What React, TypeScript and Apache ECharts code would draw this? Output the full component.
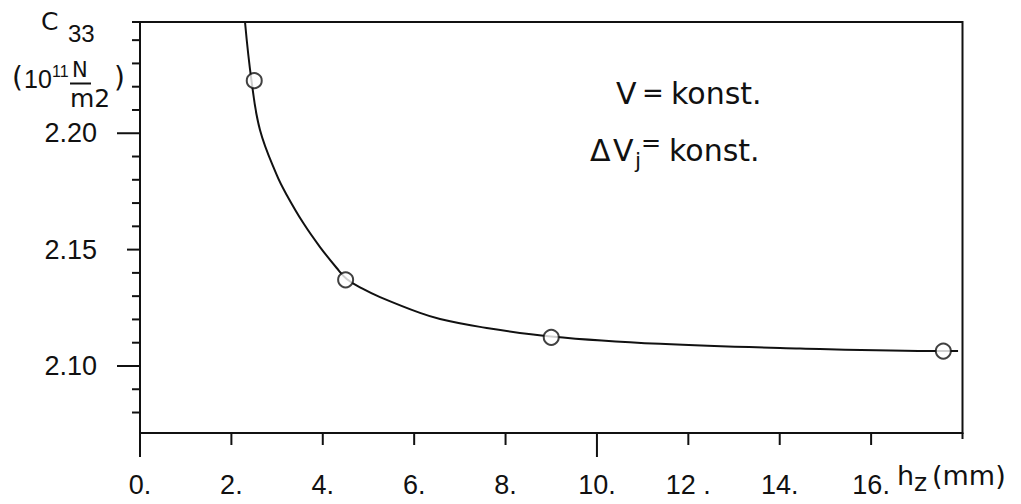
import React, { useEffect, useRef } from "react";
import * as echarts from "echarts";

// Measured points: C33 (10^11 N/m^2) against layer thickness h_z (mm)
const measuredX = [2.5, 4.5, 9.0, 17.58];
const measuredY = [2.2226, 2.137, 2.1123, 2.1064];

// Hand-drawn fit curve through the measurements
const curveX = [2.298, 2.44, 2.626, 2.992, 3.211, 3.574, 3.94, 4.305, 4.524, 4.859, 5.253, 6.128, 6.566, 7.441, 8.995, 11.381, 14.445, 17.575, 17.903];
const curveY = [2.2478, 2.2226, 2.2014, 2.1821, 2.1735, 2.1614, 2.1511, 2.1421, 2.1374, 2.1333, 2.1296, 2.1228, 2.1202, 2.1168, 2.1127, 2.1095, 2.1075, 2.1064, 2.1064];

// Axis ranges, tick positions and labels
const X_MIN = 0;
const X_MAX = 18;
const Y_MIN = 2.0712;
const Y_MAX = 2.2478;
const xLabelValues = [0, 2, 4, 6, 8, 10, 12, 14, 16];
const xLabelTexts = ["0.", "2.", "4.", "6.", "8.", "10.", "12 .", "14.", "16."];
const xLongTicks = [0, 10];
const xShortTicks = [2, 4, 6, 8, 12, 14, 16];
const xEndTicks = [18];
const yLabelValues = [2.1, 2.15, 2.2];
const yLabelTexts = ["2.10", "2.15", "2.20"];
const yLongTicks = [2.1, 2.2];
const yMidTicks = [2.15];
const yMinorTicks = [2.08, 2.09, 2.11, 2.12, 2.13, 2.14, 2.16, 2.17, 2.18, 2.19, 2.21, 2.22, 2.23, 2.24];

const NUM_FONT = "'Liberation Sans', Arial, sans-serif";
const TXT_FONT = "'DejaVu Sans', sans-serif";
const INK = "#111";

// Tick groups: which axis they sit on and how far they reach out
const TICK_GROUPS = [
  { axis: "x", values: xLongTicks, len: 24 },
  { axis: "x", values: xShortTicks, len: 12 },
  { axis: "x", values: xEndTicks, len: 6 },
  { axis: "y", values: yLongTicks, len: 23 },
  { axis: "y", values: yMidTicks, len: 13 },
  { axis: "y", values: yMinorTicks, len: 8 },
];

function txt(text: string, left: number, top: number, size: number, family = TXT_FONT) {
  return {
    type: "text",
    left,
    top,
    silent: true,
    style: { text, fontSize: size, fontFamily: family, fill: INK },
  };
}

export default function App() {
  const ref = useRef<HTMLDivElement>(null);

  useEffect(() => {
    if (!ref.current) return;
    const chart = echarts.init(ref.current, null, { renderer: "svg" });

    const curve = curveX.map((x, i) => [x, curveY[i]]);
    const points = measuredX.map((x, i) => [x, measuredY[i]]);

    // one item per tick: [x, y, group index]
    const tickData: number[][] = [];
    TICK_GROUPS.forEach((g, gi) => {
      g.values.forEach((v) => {
        tickData.push(g.axis === "x" ? [v, Y_MIN, gi] : [X_MIN, v, gi]);
      });
    });

    chart.setOption({
      animation: false,
      backgroundColor: "#fff",
      grid: {
        left: 140,
        right: 58.5,
        top: 22,
        bottom: 71,
        show: true,
        borderColor: INK,
        borderWidth: 2,
        backgroundColor: "transparent",
        outerBoundsMode: "none",
      },
      xAxis: {
        type: "value",
        min: X_MIN,
        max: X_MAX,
        position: "bottom",
        axisLine: { show: true, onZero: false, lineStyle: { color: INK, width: 2 } },
        axisTick: { show: false },
        splitLine: { show: false },
        axisLabel: {
          customValues: xLabelValues,
          formatter: (v: number) => {
            const i = xLabelValues.findIndex((t) => Math.abs(t - v) < 1e-6);
            return i >= 0 ? xLabelTexts[i] : "";
          },
          color: INK,
          fontFamily: NUM_FONT,
          fontSize: 27,
          margin: 38,
        },
      },
      yAxis: {
        type: "value",
        min: Y_MIN,
        max: Y_MAX,
        position: "left",
        axisLine: { show: true, onZero: false, lineStyle: { color: INK, width: 2 } },
        axisTick: { show: false },
        splitLine: { show: false },
        axisLabel: {
          customValues: yLabelValues,
          formatter: (v: number) => {
            const i = yLabelValues.findIndex((t) => Math.abs(t - v) < 1e-6);
            return i >= 0 ? yLabelTexts[i] : "";
          },
          color: INK,
          fontFamily: NUM_FONT,
          fontSize: 27,
          margin: 43,
        },
      },
      series: [
        {
          type: "line",
          data: curve,
          smooth: 0.4,
          showSymbol: false,
          symbol: "none",
          lineStyle: { color: INK, width: 2 },
          clip: true,
          silent: true,
          z: 2,
        },
        {
          type: "scatter",
          data: points,
          symbol: "circle",
          symbolSize: 15,
          itemStyle: { color: "#fff", borderColor: INK, borderWidth: 2 },
          silent: true,
          z: 3,
        },
        {
          // axis tick marks of differing lengths
          type: "custom",
          silent: true,
          clip: false,
          z: 5,
          encode: { x: 0, y: 1 },
          data: tickData,
          renderItem: (_p: any, api: any) => {
            const g = TICK_GROUPS[api.value(2)];
            const pt = api.coord([api.value(0), api.value(1)]);
            const shape =
              g.axis === "x"
                ? { x1: pt[0], y1: pt[1], x2: pt[0], y2: pt[1] + g.len }
                : { x1: pt[0] - g.len, y1: pt[1], x2: pt[0], y2: pt[1] };
            return { type: "line", shape, style: { stroke: INK, lineWidth: 2 } };
          },
        },
      ],
      graphic: [
        // top frame line runs a little past the y axis
        { type: "line", silent: true, shape: { x1: 132, y1: 22, x2: 141, y2: 22 }, style: { stroke: INK, lineWidth: 2 } },
        // y-axis title: C33 (10^11 N/m2)
        txt("C", 41, 9, 25),
        txt("33", 68, 21, 24, NUM_FONT),
        txt("(", 12, 63, 28),
        txt("10", 24, 66, 25, NUM_FONT),
        txt("11", 52, 63, 16, NUM_FONT),
        txt("N", 72, 59, 21),
        { type: "line", silent: true, shape: { x1: 70, y1: 83.5, x2: 91, y2: 83.5 }, style: { stroke: INK, lineWidth: 2 } },
        txt("m2", 70, 86, 25),
        txt(")", 114, 63, 28),
        // x-axis title: h_z (mm)
        txt("h", 897, 462, 27),
        txt("z", 914, 470, 25),
        txt("(mm)", 932, 462, 27),
        // Conditions
        txt("V", 616, 78, 30),
        txt("=", 642, 80, 26),
        txt("konst.", 671, 78, 30),
        txt("Δ", 590, 135, 30),
        txt("V", 613, 135, 30),
        txt("j", 635, 149, 22),
        txt("=", 641, 131, 24),
        txt("konst.", 669, 135, 30),
      ],
    });

    return () => chart.dispose();
  }, []);

  return (
    <div
      ref={ref}
      style={{ position: "absolute", left: 0, top: 0, width: 1021, height: 504, background: "#fff" }}
    />
  );
}
